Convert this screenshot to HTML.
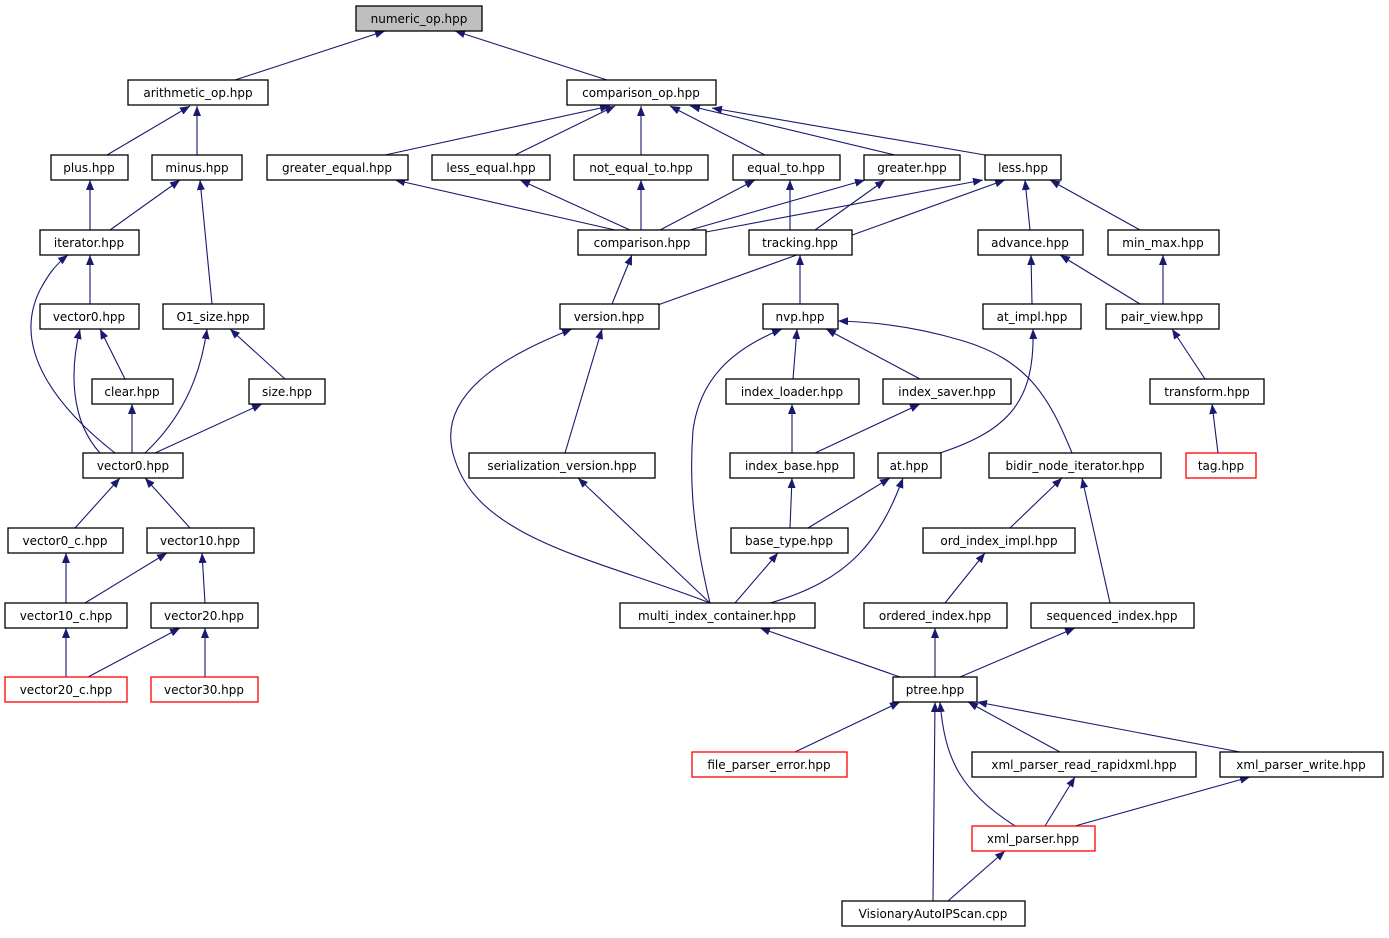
<!DOCTYPE html>
<html><head><meta charset="utf-8"><style>
html,body{margin:0;padding:0;background:#fff;}
svg text{font-family:"DejaVu Sans","Liberation Sans",sans-serif;font-size:12px;fill:#000;}
</style></head><body>
<svg width="1389" height="933" viewBox="0 0 1389 933" xmlns="http://www.w3.org/2000/svg">
<defs><marker id="a" markerWidth="11" markerHeight="8" refX="10" refY="4" orient="auto" markerUnits="userSpaceOnUse"><path d="M0,0 L10,4 L0,8 z" fill="#191970"/></marker></defs>
<g stroke="#191970" stroke-width="1.1" fill="none" marker-end="url(#a)">
<path d="M235,80 L385,31"/>
<path d="M607,80 L455,31"/>
<path d="M107,155 L190,106"/>
<path d="M197,155 L197,106"/>
<path d="M385,155 L610,106"/>
<path d="M515,155 L615,106"/>
<path d="M641,155 L641,106"/>
<path d="M765,155 L670,106"/>
<path d="M895,155 L690,106"/>
<path d="M985,155 L712,108"/>
<path d="M90,230 L90,180"/>
<path d="M110,230 L180,180"/>
<path d="M212,304 L200,180"/>
<path d="M615,230 L395,180"/>
<path d="M630,230 L520,180"/>
<path d="M641,230 L641,180"/>
<path d="M660,230 L755,180"/>
<path d="M690,230 L865,180"/>
<path d="M706,232 L983,180"/>
<path d="M790,230 L790,180"/>
<path d="M815,230 L885,180"/>
<path d="M1030,230 L1025,180"/>
<path d="M1140,230 L1050,180"/>
<path d="M655,306 L1005,180"/>
<path d="M612,304 L632,255"/>
<path d="M800,304 L800,255"/>
<path d="M1032,304 L1031,255"/>
<path d="M1140,304 L1060,255"/>
<path d="M1163,304 L1163,255"/>
<path d="M90,304 L90,255"/>
<path d="M115,453 C60,410 10,350 40,290 C48,275 55,265 68,255"/>
<path d="M125,379 L100,329"/>
<path d="M100,453 C70,420 70,370 80,329"/>
<path d="M132,453 L132,404"/>
<path d="M145,453 C180,420 200,380 207,329"/>
<path d="M155,453 L262,404"/>
<path d="M285,379 L230,329"/>
<path d="M565,453 L602,329"/>
<path d="M710,603 C600,560 480,540 455,460 C430,390 520,350 572,329"/>
<path d="M710,603 C690,520 690,470 693,430 C700,380 730,350 782,329"/>
<path d="M710,603 L578,478"/>
<path d="M793,379 L797,329"/>
<path d="M920,379 L826,329"/>
<path d="M1072,453 C1050,400 1030,360 960,340 C920,328 880,322 838,321"/>
<path d="M792,453 L792,404"/>
<path d="M815,453 L920,404"/>
<path d="M940,453 C1010,430 1035,400 1033,329"/>
<path d="M1205,379 L1172,329"/>
<path d="M1218,453 L1212,404"/>
<path d="M75,528 L120,478"/>
<path d="M190,528 L145,478"/>
<path d="M66,603 L66,553"/>
<path d="M85,603 L167,553"/>
<path d="M205,603 L202,553"/>
<path d="M66,677 L66,628"/>
<path d="M88,677 L180,628"/>
<path d="M205,677 L205,628"/>
<path d="M790,528 L792,478"/>
<path d="M808,528 L890,478"/>
<path d="M735,603 L778,553"/>
<path d="M770,603 C850,580 880,540 903,478"/>
<path d="M1010,528 L1062,478"/>
<path d="M1110,603 L1082,478"/>
<path d="M945,603 L985,553"/>
<path d="M900,677 L760,628"/>
<path d="M935,677 L935,628"/>
<path d="M960,677 L1075,628"/>
<path d="M795,752 L900,702"/>
<path d="M1060,752 L968,702"/>
<path d="M1240,752 L977,702"/>
<path d="M1015,826 C960,790 945,760 940,702"/>
<path d="M933,901 L935,702"/>
<path d="M1045,826 L1075,777"/>
<path d="M1075,826 L1250,777"/>
<path d="M948,901 L1005,851"/>
</g>
<g stroke-width="1.3">
<rect x="356" y="6" width="126" height="25" fill="#bfbfbf" stroke="#000"/><text x="419" y="23" text-anchor="middle">numeric_op.hpp</text>
<g fill="#fff" stroke="#000">
<rect x="128" y="80" width="140" height="25"/><rect x="567" y="80" width="149" height="25"/>
<rect x="51" y="155" width="77" height="25"/><rect x="152" y="155" width="90" height="25"/><rect x="267" y="155" width="141" height="25"/><rect x="432" y="155" width="118" height="25"/><rect x="574" y="155" width="134" height="25"/><rect x="733" y="155" width="107" height="25"/><rect x="864" y="155" width="96" height="25"/><rect x="985" y="155" width="76" height="25"/>
<rect x="40" y="230" width="99" height="25"/><rect x="578" y="230" width="128" height="25"/><rect x="749" y="230" width="103" height="25"/><rect x="978" y="230" width="105" height="25"/><rect x="1108" y="230" width="111" height="25"/>
<rect x="40" y="304" width="99" height="25"/><rect x="163" y="304" width="101" height="25"/><rect x="560" y="304" width="99" height="25"/><rect x="763" y="304" width="75" height="25"/><rect x="983" y="304" width="98" height="25"/><rect x="1106" y="304" width="113" height="25"/>
<rect x="92" y="379" width="81" height="25"/><rect x="249" y="379" width="76" height="25"/><rect x="726" y="379" width="133" height="25"/><rect x="883" y="379" width="128" height="25"/><rect x="1150" y="379" width="114" height="25"/>
<rect x="83" y="453" width="100" height="25"/><rect x="469" y="453" width="186" height="25"/><rect x="730" y="453" width="124" height="25"/><rect x="878" y="453" width="63" height="25"/><rect x="989" y="453" width="172" height="25"/>
<rect x="8" y="528" width="115" height="25"/><rect x="147" y="528" width="107" height="25"/><rect x="731" y="528" width="117" height="25"/><rect x="923" y="528" width="152" height="25"/>
<rect x="5" y="603" width="122" height="25"/><rect x="151" y="603" width="107" height="25"/><rect x="620" y="603" width="195" height="25"/><rect x="864" y="603" width="143" height="25"/><rect x="1031" y="603" width="163" height="25"/>
<rect x="893" y="677" width="84" height="25"/>
<rect x="972" y="752" width="224" height="25"/><rect x="1220" y="752" width="163" height="25"/>
<rect x="842" y="901" width="183" height="25"/>
</g>
<g fill="#fff" stroke="#ff0000">
<rect x="1186" y="453" width="70" height="25"/>
<rect x="5" y="677" width="122" height="25"/><rect x="151" y="677" width="107" height="25"/>
<rect x="692" y="752" width="155" height="25"/>
<rect x="972" y="826" width="123" height="25"/>
</g>
</g>
<g text-anchor="middle">
<text x="198" y="97">arithmetic_op.hpp</text><text x="641" y="97">comparison_op.hpp</text>
<text x="89" y="172">plus.hpp</text><text x="197" y="172">minus.hpp</text><text x="337" y="172">greater_equal.hpp</text><text x="491" y="172">less_equal.hpp</text><text x="641" y="172">not_equal_to.hpp</text><text x="786" y="172">equal_to.hpp</text><text x="912" y="172">greater.hpp</text><text x="1023" y="172">less.hpp</text>
<text x="89" y="247">iterator.hpp</text><text x="642" y="247">comparison.hpp</text><text x="800" y="247">tracking.hpp</text><text x="1030" y="247">advance.hpp</text><text x="1163" y="247">min_max.hpp</text>
<text x="89" y="321">vector0.hpp</text><text x="213" y="321">O1_size.hpp</text><text x="609" y="321">version.hpp</text><text x="800" y="321">nvp.hpp</text><text x="1032" y="321">at_impl.hpp</text><text x="1162" y="321">pair_view.hpp</text>
<text x="132" y="396">clear.hpp</text><text x="287" y="396">size.hpp</text><text x="792" y="396">index_loader.hpp</text><text x="947" y="396">index_saver.hpp</text><text x="1207" y="396">transform.hpp</text>
<text x="133" y="470">vector0.hpp</text><text x="562" y="470">serialization_version.hpp</text><text x="792" y="470">index_base.hpp</text><text x="909" y="470">at.hpp</text><text x="1075" y="470">bidir_node_iterator.hpp</text><text x="1221" y="470">tag.hpp</text>
<text x="65" y="545">vector0_c.hpp</text><text x="200" y="545">vector10.hpp</text><text x="789" y="545">base_type.hpp</text><text x="999" y="545">ord_index_impl.hpp</text>
<text x="66" y="620">vector10_c.hpp</text><text x="204" y="620">vector20.hpp</text><text x="717" y="620">multi_index_container.hpp</text><text x="935" y="620">ordered_index.hpp</text><text x="1112" y="620">sequenced_index.hpp</text>
<text x="66" y="694">vector20_c.hpp</text><text x="204" y="694">vector30.hpp</text><text x="935" y="694">ptree.hpp</text>
<text x="769" y="769">file_parser_error.hpp</text><text x="1084" y="769">xml_parser_read_rapidxml.hpp</text><text x="1301" y="769">xml_parser_write.hpp</text>
<text x="1033" y="843">xml_parser.hpp</text>
<text x="933" y="918">VisionaryAutoIPScan.cpp</text>
</g>
</svg>
</body></html>
